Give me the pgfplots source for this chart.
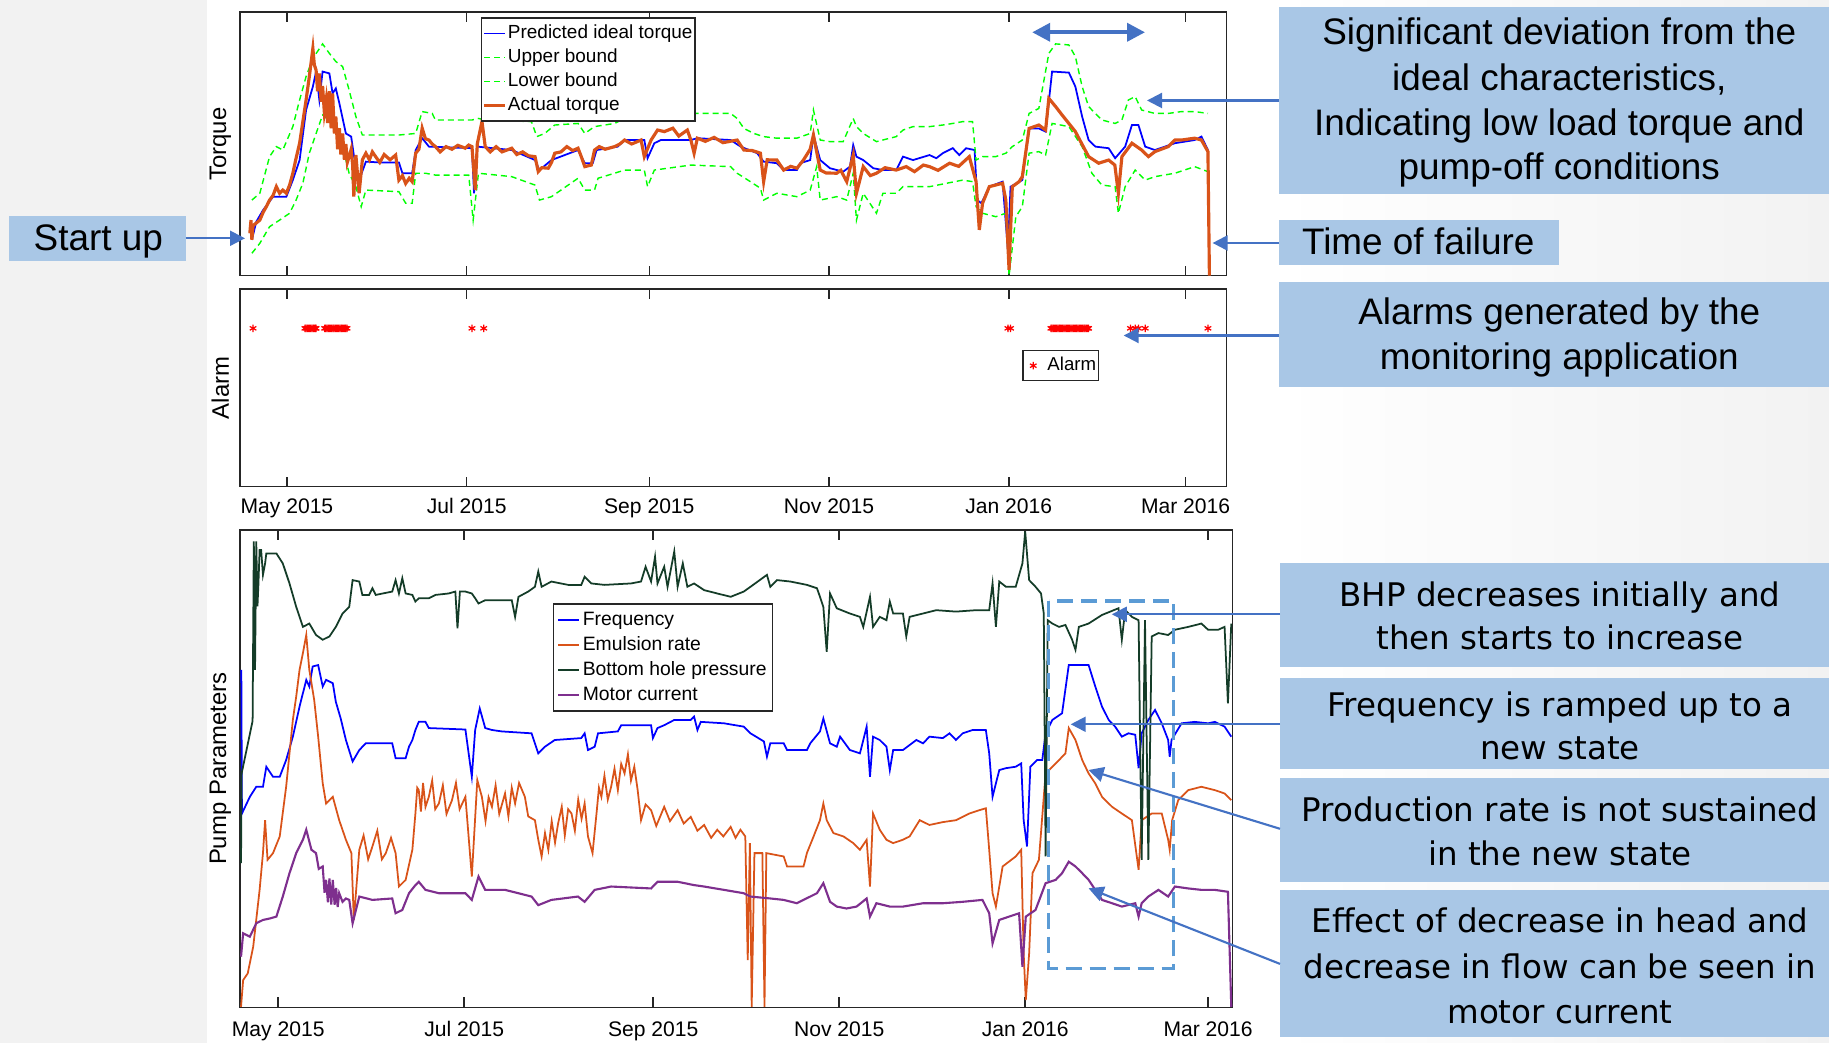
\documentclass[border=0pt]{standalone}
\usepackage{pgfplots}
\pgfplotsset{compat=1.18}
\usepackage{fontspec}
\setmainfont{Liberation Sans}
\newfontfamily\tahoma{DejaVu Sans}
\usetikzlibrary{arrows.meta}
\definecolor{boxblue}{RGB}{169,199,230}
\definecolor{arrblue}{RGB}{68,114,196}
\definecolor{dashblue}{RGB}{91,155,213}
\definecolor{mlorange}{RGB}{217,83,25}
\definecolor{mlpurple}{RGB}{126,47,142}
\definecolor{bhpgreen}{RGB}{20,60,40}
\definecolor{framegray}{RGB}{38,38,38}
\definecolor{bggray}{RGB}{242,242,242}
\pgfplotsset{
 mlaxis/.style={
  scale only axis, anchor=north west,
  axis line style={framegray, line width=0.45pt},
  every tick/.style={framegray, line width=0.45pt},
  major tick length=1mm, tick align=inside,
  xtick={0,61,123,184,245,305},
  xticklabels={May 2015,Jul 2015,Sep 2015,Nov 2015,Jan 2016,Mar 2016},
  xticklabel style={font=\fontsize{6}{7}\selectfont, anchor=base, yshift=-2.7mm, text=black},
  ytick=\empty,
  ylabel style={font=\fontsize{6.8}{8}\selectfont, anchor=center},
  legend cell align=left,
  legend image code/.code={\draw[##1] (0mm,0mm) -- (2.1mm,0mm);},
 },
 alarmlegend/.style={legend image code/.code={\path[draw=none] (0mm,0mm) -- (2.2mm,0mm); \draw[##1,only marks] plot coordinates {(0.88mm,0mm)};}},
 bound/.style={green, line width=0.4pt, dash pattern=on 0.6mm off 0.4mm},
}
\begin{document}
\begin{tikzpicture}
\fill[bggray] (0,0) rectangle (182.9mm,-104.3mm);
\fill[white] (20.7mm,0) rectangle (127.9mm,-104.3mm);
\shade[left color=white, right color=bggray] (127.9mm,0) rectangle (182.9mm,-104.3mm);

% ---------------- Torque ----------------
\begin{axis}[mlaxis, at={(23.98mm,-1.23mm)}, width=98.67mm, height=26.34mm,
  xmin=-16, xmax=318.9, ymin=0, ymax=100, xticklabels={},
  ylabel={Torque}, ylabel style={at={(rel axis cs:-0.0196,0.5)}},
  legend style={at={(rel axis cs:0.244,0.981)}, anchor=north west, draw=framegray,
    font=\fontsize{5.4}{6}\selectfont, inner xsep=0.15mm, inner ysep=0.35mm, row sep=0pt,
    nodes={inner xsep=0.1mm, inner ysep=0.25mm, text height=1.45mm, text depth=0.45mm}}]
\addplot[blue, line width=0.5pt] coordinates {
(-11.9,13.6) (-10.4,20.5) (-8.1,24.9) (-4.7,30.0) (-0.2,30.0) (2.0,36.3) (4.3,43.9) (6.5,62.9) (8.8,71.8) (9.9,77.5)
(11.0,66.7) (12.1,77.5) (14.4,76.8) (15.5,69.2) (16.6,71.1) (17.8,65.4) (20.0,54.0) (21.8,52.8) (22.7,45.8) (24.5,36.3)
(26.8,43.3) (31.3,43.0) (38.0,43.0) (39.2,38.9) (42.5,38.9) (43.7,47.7) (45.9,52.2) (48.2,49.0) (62.8,48.4) (63.5,31.3)
(64.6,49.0) (76.3,47.7) (84.2,43.9) (85.7,40.1) (89.8,43.9) (98.8,47.7) (101.1,42.7) (103.8,42.7) (105.1,47.7) (112.3,49.0)
(114.6,51.5) (121.3,51.5) (122.4,44.6) (124.7,50.3) (126.9,51.5) (137.1,51.5) (139.3,52.2) (150.6,51.5) (154.0,49.0) (159.6,46.5)
(161.8,43.3) (166.3,42.7) (168.6,40.1) (173.1,40.1) (174.2,42.7) (177.6,43.9) (178.7,53.4) (181.0,43.9) (184.3,40.8) (188.8,39.5)
(191.1,41.4) (192.2,49.6) (193.3,45.2) (195.6,43.9) (199.0,40.8) (202.3,40.1) (206.8,40.1) (209.1,45.2) (212.5,43.9) (218.1,45.8)
(220.4,44.6) (222.6,46.5) (226.0,48.4) (228.2,45.8) (230.5,48.4) (233.4,47.7) (234.3,28.7) (235.7,27.5) (238.4,33.8) (242.9,35.7)
(244.7,9.8) (245.6,33.8) (249.6,36.3) (251.9,55.9) (255.2,55.9) (257.5,54.7) (259.7,77.5) (265.4,77.1) (267.6,71.8) (269.9,60.4)
(272.1,51.5) (274.4,49.0) (278.9,48.4) (281.1,44.6) (284.5,49.0) (286.8,57.2) (289.0,57.2) (291.3,49.0) (294.6,47.7) (301.4,50.3)
(308.1,51.5) (310.4,52.8) (312.6,47.7)};
\addlegendentry{Predicted ideal torque}
\addplot[bound] coordinates {
(-11.9,28.7) (-9.2,31.3) (-5.9,45.2) (-3.6,49.0) (-1.4,47.7) (2.0,56.6) (4.3,66.7) (6.5,75.6) (8.8,82.5) (12.1,88.0)
(14.4,84.4) (16.6,81.3) (18.9,79.4) (21.1,70.5) (23.4,60.4) (25.6,53.4) (38.0,53.4) (43.7,54.0) (45.9,62.3) (49.3,61.6)
(50.4,59.1) (62.8,59.1) (65.0,59.7) (67.3,59.1) (83.0,58.5) (84.8,52.8) (87.5,54.0) (90.9,57.2) (98.8,57.8) (101.1,54.0)
(104.4,56.6) (111.2,57.8) (114.6,59.7) (122.4,59.7) (124.7,61.6) (150.6,61.6) (152.8,59.7) (155.1,55.9) (158.5,54.0) (161.8,52.8)
(166.3,52.2) (173.1,52.2) (177.6,54.0) (178.7,62.9) (181.0,51.5) (184.3,50.9) (188.8,50.9) (192.2,59.7) (193.3,56.6) (195.6,54.0)
(200.1,50.9) (206.8,52.8) (209.1,55.3) (212.5,56.6) (218.1,56.6) (222.6,57.2) (226.0,57.8) (229.4,58.5) (232.7,58.5) (233.9,43.9)
(236.1,45.2) (240.6,45.2) (244.0,46.5) (246.2,49.0) (249.6,51.5) (251.9,61.6) (255.2,63.5) (258.6,84.4) (260.9,88.0) (265.4,87.6)
(267.6,83.2) (269.9,71.8) (272.1,64.2) (276.6,59.1) (281.1,57.8) (283.4,59.1) (285.6,66.7) (287.9,68.0) (290.1,62.9) (294.6,61.6)
(299.1,61.6) (303.6,62.3) (308.1,62.3) (312.6,61.6)};
\addlegendentry{Upper bound}
\addplot[bound] coordinates {
(-11.9,8.5) (-9.2,12.3) (-5.9,18.6) (-2.5,21.1) (0.9,23.7) (3.1,28.7) (5.4,35.1) (7.6,46.5) (9.9,54.0) (12.1,61.0)
(14.4,59.1) (16.6,54.0) (18.9,49.0) (21.1,38.9) (23.4,33.8) (25.2,26.2) (26.8,32.5) (38.0,31.9) (40.3,27.5) (42.5,27.5)
(43.7,38.9) (47.0,38.9) (50.4,38.2) (61.7,38.2) (63.2,21.1) (65.0,38.9) (76.3,37.6) (84.2,34.4) (85.7,28.7) (89.8,30.0)
(98.8,37.0) (101.1,32.5) (104.4,32.5) (105.6,37.0) (111.2,38.9) (114.6,40.1) (121.3,40.1) (122.4,33.8) (124.7,40.1) (137.1,42.0)
(150.6,41.4) (152.8,38.9) (157.3,35.7) (160.7,33.2) (161.8,28.7) (166.3,31.3) (173.1,30.0) (177.6,32.5) (179.8,41.4) (181.0,28.7)
(186.6,30.0) (190.0,28.7) (192.2,38.9) (193.3,21.1) (195.6,31.3) (200.1,23.7) (202.3,31.3) (206.8,31.3) (209.1,33.8) (218.1,33.8)
(229.4,36.3) (232.7,35.7) (233.9,26.2) (236.1,23.7) (240.6,22.4) (244.0,23.7) (245.1,0.0) (247.4,22.4) (249.6,26.2) (251.9,46.5)
(255.2,47.1) (257.5,45.8) (259.7,57.8) (265.4,56.6) (269.9,49.0) (273.2,38.9) (276.6,34.4) (281.1,33.8) (282.2,23.7) (284.5,33.8)
(287.9,40.1) (291.3,36.3) (294.6,37.6) (301.4,38.9) (308.1,41.4) (312.6,39.5)};
\addlegendentry{Lower bound}
\addplot[mlorange, line width=0.9pt] coordinates {
(-12.6,16.1) (-12.2,21.1) (-11.9,13.6) (-11.5,19.0) (-9.2,21.1) (-8.1,24.0) (-7.0,26.2) (-5.9,28.7) (-4.7,30.5) (-3.6,33.8)
(-2.5,31.3) (-1.4,32.5) (-0.2,31.3) (0.9,34.4) (2.0,38.9) (3.1,44.6) (4.3,50.3) (5.4,58.5) (6.5,66.7) (7.6,75.6)
(8.8,86.3) (9.3,80) (9.9,78) (10.4,70) (11.0,76.8) (11.6,66) (12.1,72) (12.7,62) (13.3,66.7) (13.8,58)
(14.4,70) (15.0,56) (15.5,69.2) (16.1,54) (16.6,60.4) (17.2,48) (17.8,56) (18.3,46) (18.9,54.0) (19.5,44)
(20.0,50) (20.5,43) (21.1,45.2) (21.8,48) (22.3,42) (22.7,30) (23.4,45.8) (24.5,31.3) (25.6,44) (26.8,46.5)
(28,44) (29,47) (30.1,45.2) (31.5,43) (33,46) (35,44) (36.9,45.8) (38.0,36.3) (39.2,38) (40.3,35)
(41.5,37) (42.5,35.7) (43.7,46.5) (44.8,48) (45.9,56.0) (47.0,52) (48.2,51.5) (49.3,50) (50.4,49.0) (52,47)
(54,49) (56,48) (58,49.5) (60.5,48.4) (61.7,49.6) (62.8,49.0) (63.9,32.5) (64.6,50) (66.2,58.5) (67.3,49.0)
(69,47) (71,49) (73,47) (76.3,48.4) (78,46) (80,47) (82,45.5) (84.2,45.2) (85.3,39.5) (86.5,41)
(88.7,40.8) (89.8,43) (90.9,46.5) (93,47) (95,49) (97,47.5) (98.8,48.4) (99.9,45.2) (101.1,41.4) (103.3,42.0)
(104.4,47.7) (106,49) (108,48) (111.2,49.0) (113,50) (114.6,51.5) (117,50) (120.2,51.5) (121.3,45.2) (123.6,51.5)
(125.8,55.3) (128.1,54.7) (131,56) (133,53) (135.9,55.3) (137.1,51.5) (138.2,46.5) (139.3,52.2) (142,51) (145,52.5)
(148,50.5) (152.8,51.5) (155.1,47.7) (158,47.5) (160.7,46.5) (161.8,35.7) (163,44) (166.3,43.9) (168.6,40.1) (171,41.5)
(173.1,40.8) (175.3,43.9) (177.6,48) (178.7,53.4) (181.0,40.1) (183,39) (186.6,38.9) (188,40) (190.0,35.7) (192.2,45.8)
(193.3,31.3) (195.6,41.4) (198,38) (200.1,38.9) (203,41) (206.8,40.1) (210.2,41.4) (213,39.5) (216,42) (218.1,41.4)
(221,40) (224.9,42.7) (228,41.5) (231.6,45.2) (233.9,35.7) (235.0,17.4) (236.1,27.5) (238.4,33.8) (242.9,35.1) (244.0,28.7)
(245.1,2.2) (246.2,33.8) (248.5,35.7) (249.6,37.6) (251.9,55.9) (255.2,57.2) (257.5,55.3) (258.6,67.3) (260.9,64.2) (263.1,61.0)
(267.6,54.7) (272.1,45.2) (275.5,42.7) (278.9,43.9) (281,42) (282.2,31.3) (283.4,45.2) (286.8,50.3) (290.1,47.7) (292.4,45.2)
(294.6,47.1) (299.1,49.0) (301.4,51.5) (303.6,51.5) (308.1,52.2) (310.4,51.5) (312.6,47.1) (313.1,0)};
\addlegendentry{Actual torque}
\end{axis}

% ---------------- Alarm ----------------
\begin{axis}[mlaxis, at={(23.98mm,-28.9mm)}, width=98.67mm, height=19.77mm,
  xmin=-16, xmax=318.9, ymin=0, ymax=1,
  ylabel={Alarm}, ylabel style={at={(rel axis cs:-0.0196,0.5)}},
  legend style={at={(rel axis cs:0.793,0.6915)}, anchor=north west, draw=framegray,
    font=\fontsize{5.3}{6}\selectfont, inner xsep=0.15mm, inner ysep=0.3mm,
    nodes={inner xsep=0.1mm, inner ysep=0.25mm, text height=1.45mm, text depth=0.45mm}}]
\addplot[only marks, red, mark=asterisk, mark size=0.38mm, mark options={line width=0.35pt}, alarmlegend] coordinates {
(-11.5,0.801)
(6.1,0.801) (6.5,0.801) (6.9,0.801) (7.3,0.801) (7.7,0.801) (8.1,0.801) (8.5,0.801) (8.9,0.801) (9.3,0.801) (9.7,0.801) (9.9,0.801)
(12.8,0.801) (13.2,0.801) (13.6,0.801) (14.0,0.801) (14.4,0.801) (14.8,0.801) (15.2,0.801) (15.6,0.801) (16.0,0.801) (16.4,0.801)
(16.8,0.801) (17.2,0.801) (17.6,0.801) (18.0,0.801) (18.4,0.801) (18.8,0.801) (19.2,0.801) (19.6,0.801) (20.0,0.801) (20.4,0.801)
(62.8,0.801) (66.8,0.801) (244.7,0.801) (245.6,0.801)
(259.3,0.801) (259.7,0.801) (260.1,0.801) (260.5,0.801) (260.9,0.801) (261.3,0.801) (261.7,0.801) (262.1,0.801) (262.5,0.801) (262.9,0.801)
(263.3,0.801) (263.7,0.801) (264.1,0.801) (264.5,0.801) (264.9,0.801) (265.3,0.801) (265.7,0.801) (266.1,0.801) (266.5,0.801) (266.9,0.801)
(267.3,0.801) (267.7,0.801) (268.1,0.801) (268.5,0.801) (268.9,0.801) (269.3,0.801) (269.7,0.801) (270.1,0.801) (270.5,0.801) (270.9,0.801)
(271.3,0.801) (271.7,0.801) (272.1,0.801)
(286.3,0.801) (287.9,0.801) (289.0,0.801) (291.3,0.801) (312.6,0.801)};
\addlegendentry{Alarm}
\end{axis}

% ---------------- Pump parameters ----------------
\begin{axis}[mlaxis, at={(23.98mm,-53.0mm)}, width=99.27mm, height=47.73mm,
  xmin=-12.6, xmax=313.0, ymin=0, ymax=100,
  xticklabel style={yshift=-0.2mm},
  ylabel={Pump Parameters}, ylabel style={at={(rel axis cs:-0.0195,0.5)}},
  legend style={at={(rel axis cs:0.3155,0.8464)}, anchor=north west, draw=framegray,
    font=\fontsize{5.5}{6}\selectfont, inner sep=0.35mm, row sep=0pt,
    nodes={inner sep=0.25mm, text height=1.5mm, text depth=0.5mm}}]
\addplot[blue, line width=0.5pt] coordinates {
(-12.1,70.7) (-11.9,40.6) (-9.3,44.1) (-7.2,46.2) (-5.0,46.2) (-3.9,50.4) (-1.7,48.3) (0.5,48.3) (2.6,51.8) (4.8,56.7)
(7.0,63.0) (9.2,68.6) (10.2,67.2) (11.3,71.4) (13.1,71.7) (14.6,67.2) (15.7,68.6) (17.9,67.9) (18.9,64.0) (20.5,60.5)
(22.2,56.0) (24.4,51.5) (26.6,53.9) (28.7,55.3) (37.4,55.3) (38.5,52.2) (41.8,52.2) (42.9,54.6) (44.0,56.0) (45.0,58.1)
(46.1,59.8) (48.3,59.8) (49.4,58.5) (61.4,58.2) (63.5,48.3) (64.6,58.1) (66.1,62.6) (67.9,58.5) (70.1,58.1) (73.3,57.8)
(83.1,57.4) (85.3,53.2) (87.5,54.6) (90.7,56.0) (99.4,56.4) (100.5,57.4) (101.6,53.9) (103.8,54.6) (104.9,57.4) (111.4,57.8)
(112.5,59.1) (122.3,59.1) (122.9,56.4) (124.4,58.5) (126.6,59.1) (129.9,60.2) (135.3,60.2) (136.4,60.9) (137.5,58.1) (138.6,59.8)
(146.2,59.5) (152.7,58.8) (154.9,57.4) (159.3,55.7) (160.3,52.5) (161.4,55.3) (165.8,55.3) (166.9,53.9) (173.4,53.9) (174.5,55.3)
(177.7,57.8) (178.8,60.5) (181.0,55.3) (183.2,54.6) (184.3,56.7) (187.5,53.9) (190.8,53.2) (193.0,58.8) (194.1,48.3) (195.1,56.7)
(197.3,56.0) (199.5,54.6) (200.6,49.7) (201.7,53.9) (204.9,53.9) (209.3,56.0) (211.5,55.3) (213.6,56.7) (218.0,56.4) (220.2,57.4)
(222.3,56.0) (224.5,57.4) (227.8,58.1) (232.1,58.1) (233.2,53.2) (234.3,44.1) (235.4,46.9) (236.5,49.7) (238.7,50.1) (241.9,50.4)
(243.7,51.1) (244.5,39.2) (245.6,33.7) (246.7,50.4) (248.9,51.8) (250.6,51.8) (251.7,57.4) (253.9,60.2) (257.1,61.6) (259.3,71.7)
(265.8,71.7) (268.0,67.2) (270.2,63.0) (272.4,60.2) (274.5,58.8) (276.7,56.7) (278.9,57.4) (281.1,57.1) (282.2,50.1) (283.2,57.4)
(285.4,60.2) (287.6,62.3) (289.8,59.5) (291.9,56.0) (292.4,52.5) (293.0,56.0) (296.3,59.5) (300.6,59.8) (305.0,59.5) (307.2,59.8)
(310.4,58.8) (312.6,56.7)};
\addlegendentry{Frequency}
\addplot[mlorange, line width=0.5pt] coordinates {
(-12.2,0.1) (-11.5,5.7) (-10.0,7.1) (-8.2,12.7) (-6.1,24.6) (-5.0,32.3) (-4.3,39.2) (-3.5,30.9) (-1.7,32.3) (0.5,35.8)
(2.6,46.2) (4.8,60.2) (5.9,65.1) (7.0,70.7) (8.1,74.2) (9.2,78.0) (10.2,70.7) (11.8,64.4) (13.1,56.7) (14.6,46.9)
(15.7,42.7) (17.9,44.1) (20.0,39.2) (22.2,35.1) (24.0,32.3) (24.8,18.3) (26.6,33.0) (28,36) (29.5,31) (30.9,33.7) (32.5,37)
(34,31) (35.3,32.3) (37,35.5) (38.5,32.3) (39.6,25.3) (41.8,26.7) (44.0,33.0) (45.0,40.6) (45.6,46) (46.1,45.5)
(46.8,41) (47.5,47) (48.3,42) (49.4,44.1) (50.5,47.5) (51.5,41.5) (52.7,42.7) (54,46.5) (55.2,40.5) (57.0,43.4)
(58.3,47) (59.5,41.5) (61.4,44.1) (63.5,27.4) (65.3,47.6) (66.8,44.1) (68,39) (69,44) (70.1,42.0) (71.3,46.5)
(72.5,40.5) (74.4,44.8) (75.5,40) (76.6,46) (77.7,42.7) (79,47) (80.9,44.1) (82,40) (84.2,39.2) (85.3,35.1)
(86.4,31.6) (87.5,36.5) (88.6,33) (89.7,39) (90.8,34.5) (91.8,38.5) (93,42) (94,36) (95.1,41.5) (96.2,40.6)
(97.3,37) (98.4,43.5) (99.5,39.5) (100.5,42.7) (101.6,35.8) (103.1,32.3) (104.4,40.6) (105.2,46) (106.0,44.1) (107,48.5)
(108.1,43.5) (109.2,46.2) (110.3,50) (111.4,45.5) (112.5,51) (113.6,49.0) (114.7,53) (115.7,47.5) (116.8,50.4) (117.9,45.5)
(119.0,39.2) (120.5,42.5) (122.3,41.3) (124,38) (126.6,42.0) (128.5,39) (131.0,41.3) (133,38.5) (135.3,39.9) (137.5,37)
(139.7,38.2) (142,35.5) (144.0,37.2) (146,35.8) (148.4,37.8) (150,35.5) (151.6,37.2) (153.2,35.8) (154.0,9.9) (154.7,34.4)
(155.3,0.1) (156.2,32.3) (158.8,32.3) (159.5,0.1) (160.1,32.3) (165.8,31.6) (166.9,29.5) (172.3,29.5) (173.4,32.3) (175.6,35.8)
(177.7,39.2) (178.8,42.7) (179.9,39.2) (182.1,36.5) (185.4,35.8) (188.6,34.4) (190.8,33.0) (193.0,35.1) (194.1,25.3) (195.1,40.6)
(197.3,37.2) (199.5,35.1) (201.7,34.4) (204.9,35.1) (207.1,35.8) (210.4,39.2) (213.6,38.2) (218.0,38.8) (222.3,39.2) (226.7,40.6)
(230.0,41.3) (232.1,41.7) (233.2,33.0) (234.3,23.9) (235.4,21.1) (237.6,29.5) (241.9,31.6) (243.7,33.0) (244.5,11.3) (245.2,1.5)
(246.3,11.3) (247.4,28.1) (249.5,30.9) (251.7,49.0) (253.9,50.4) (256.1,51.8) (258.2,53.2) (259.3,58.5) (261.5,56.0) (263.7,51.8)
(265.8,49.0) (268.0,46.9) (270.2,44.1) (273.5,42.0) (276.7,40.6) (280.0,39.2) (282.2,28.8) (283.2,39.2) (286.5,40.6) (289.8,40.6)
(291.9,35.1) (292.4,33.0) (293.2,39.2) (295.2,43.4) (298.5,45.5) (302.8,46.2) (307.2,45.5) (310.4,44.8) (312.6,43.4)};
\addlegendentry{Emulsion rate}
\addplot[bhpgreen, line width=0.5pt] coordinates {
(-12.2,30.2) (-12.0,49.0) (-8.4,60) (-8.0,97.6) (-7.6,70.7) (-7.2,97.6) (-6.8,84) (-6.5,88.5) (-6.1,95.8) (-5.6,95.8)
(-5.0,90.6) (-4.3,93.0) (-3.9,95.1) (-0.6,95.1) (1.5,93.0) (3.7,88.8) (5.9,83.9) (8.1,79.7) (10.2,80.4) (12.4,78.0)
(14.6,77.0) (16.8,77.7) (18.9,79.7) (21.1,82.5) (23.3,83.9) (24.4,89.5) (26.6,89.2) (27.6,86.4) (29.8,86.4) (30.9,87.8)
(32.0,86.4) (37.4,87.1) (38.5,89.5) (39.6,86.7) (40.7,89.9) (41.8,86.7) (44.0,86.4) (45.0,85.0) (46.1,85.7) (49.4,85.7)
(51.6,86.4) (55.9,86.7) (58.1,87.1) (58.8,79.4) (59.6,87.1) (61.4,87.1) (63.5,86.7) (64.6,85.7) (65.7,84.6) (67.9,85.3)
(76.6,85.3) (77.7,81.8) (78.8,86.0) (82.0,87.1) (84.2,88.1) (85.3,91.3) (86.4,88.1) (89.6,89.2) (95.1,88.5) (99.4,88.5)
(100.5,90.2) (102.7,88.8) (107.0,88.5) (115.7,88.8) (119.0,89.2) (120.5,92.3) (122.3,89.2) (123.6,94.4) (124.4,88.8) (126.6,92.3)
(127.7,88.1) (129.9,95.5) (131.0,88.1) (132.7,93.0) (134.2,88.1) (136.4,88.8) (139.7,87.4) (144.0,86.7) (148.4,86.0) (152.7,87.1)
(154.9,88.1) (160.3,90.6) (161.4,88.1) (163.6,89.5) (168.0,89.2) (173.4,88.5) (176.7,87.8) (177.7,86.0) (178.8,83.9) (179.9,74.5)
(181.0,86.7) (183.2,83.6) (187.5,82.5) (190.8,81.8) (191.9,79.7) (194.1,86.0) (195.1,79.7) (197.3,81.8) (199.5,81.1) (200.6,85.0)
(201.7,82.5) (204.9,82.5) (206.0,77.7) (207.1,81.8) (211.5,82.5) (215.8,83.2) (222.3,82.9) (228.9,83.2) (233.2,83.2) (234.3,88.8)
(235.4,79.7) (236.5,89.2) (238.7,88.1) (241.9,88.1) (244.1,93.0) (245.0,99.7) (246.3,89.5) (248.4,88.1) (250.2,86.7) (251.1,82.5)
(251.7,31.6) (252.4,81.1) (253.9,80.4) (256.1,79.7) (258.2,80.1) (260.4,77.0) (261.5,74.9) (262.6,79.7) (265.8,80.4) (270.2,82.2)
(275.6,83.6) (276.7,77.0) (277.8,83.2) (280.0,81.8) (282.2,81.1) (283.2,30.9) (284.3,81.1) (285.4,30.9) (286.5,77.7) (288.7,78.4)
(291.9,78.0) (294.1,79.1) (298.5,79.7) (302.8,80.4) (305.0,79.1) (308.3,79.1) (310.4,79.7) (311.5,63.7) (312.6,80.4)};
\addlegendentry{Bottom hole pressure}
\addplot[mlpurple, line width=0.6pt] coordinates {
(-12.2,10.6) (-11.5,15.5) (-9.3,14.8) (-7.2,17.6) (-5.0,18.3) (-2.8,18.6) (-0.6,19.0) (1.5,23.2) (3.7,28.1) (5.9,32.3)
(8.1,35.1) (9.2,37.2) (10.9,33.0) (12.4,32.3) (13.3,29) (14.6,29.5) (15.2,24) (15.7,26.7) (16.3,22) (16.8,27)
(17.4,21.5) (17.9,26.7) (18.5,21.5) (19.0,25) (19.5,21.0) (20.0,23.9) (21.1,22.1) (22.2,22.8) (23.3,22.5) (24.4,17.6)
(26.6,23.2) (30.9,22.5) (37.4,22.8) (38.5,19.7) (40.7,20.4) (42.9,23.9) (45.0,25.6) (46.1,26.3) (48.3,24.6) (52.7,23.9)
(61.4,23.9) (63.5,22.5) (65.7,27.4) (67.9,24.6) (74.4,24.6) (83.1,23.2) (85.3,21.4) (89.6,22.5) (98.3,23.2) (100.5,22.1)
(103.8,24.6) (109.2,25.3) (122.3,24.9) (124.4,26.3) (131.0,26.3) (136.4,25.6) (139.7,25.3) (146.2,24.6) (152.7,23.9) (154.9,23.2)
(161.4,22.8) (165.8,22.5) (170.1,21.8) (176.7,23.9) (178.8,26.0) (181.0,22.1) (183.2,21.1) (186.4,20.7) (189.7,21.1) (193.0,22.8)
(194.1,19.0) (196.2,21.8) (200.6,21.1) (204.9,21.1) (211.5,21.8) (218.0,21.8) (224.5,22.1) (231.0,22.5) (233.2,19.7) (234.3,13.4)
(236.5,18.3) (239.7,19.0) (243.0,19.7) (244.1,8.5) (245.2,19.0) (248.4,20.4) (251.7,26.0) (255.0,26.7) (257.1,28.1) (259.3,30.5)
(261.5,29.5) (263.7,28.1) (265.8,26.7) (268.0,24.6) (270.2,22.5) (273.5,21.8) (276.7,21.1) (281.1,21.8) (282.2,19.0) (283.2,21.8)
(285.4,23.2) (288.7,24.6) (291.9,23.2) (294.1,25.3) (298.5,24.9) (302.8,24.6) (307.2,24.6) (311.5,24.2) (312.6,0.1)};
\addlegendentry{Motor current}
\end{axis}

% ---------------- annotations ----------------
\draw[dashblue, line width=0.9pt, dash pattern=on 1.6mm off 0.8mm] (104.88mm,-60.1mm) rectangle (117.35mm,-96.83mm);

\fill[boxblue] (0.9mm,-21.57mm) rectangle (18.57mm,-26.1mm);
\node[anchor=base west, inner sep=0, font=\fontsize{10.5}{12}\selectfont] at (3.3mm,-25.1mm) {Start up};

\fill[boxblue] (127.9mm,-0.73mm) rectangle (182.9mm,-19.43mm);
\fill[boxblue] (127.9mm,-21.97mm) rectangle (155.88mm,-26.5mm);
\fill[boxblue] (127.9mm,-28.23mm) rectangle (182.9mm,-38.67mm);
\fill[boxblue] (128.0mm,-56.33mm) rectangle (182.9mm,-66.67mm);
\fill[boxblue] (128.0mm,-67.83mm) rectangle (182.9mm,-76.93mm);
\fill[boxblue] (128.0mm,-77.83mm) rectangle (182.9mm,-88.17mm);
\fill[boxblue] (128.0mm,-89.0mm) rectangle (182.9mm,-103.67mm);

\begin{scope}[every node/.style={anchor=base, inner sep=0, font=\fontsize{10.5}{12}\selectfont}]
\node at (155.93mm,-4.5mm) {Significant deviation from the};
\node at (155.93mm,-9.07mm) {ideal characteristics,};
\node at (155.93mm,-13.6mm) {Indicating low load torque and};
\node at (155.93mm,-18.0mm) {pump-off conditions};
\node[anchor=base west] at (130.14mm,-25.5mm) {Time of failure};
\node at (155.93mm,-32.5mm) {Alarms generated by the};
\node at (155.93mm,-37.0mm) {monitoring application};
\end{scope}
\begin{scope}[every node/.style={anchor=base, inner sep=0, font=\tahoma\fontsize{9.25}{11}\selectfont}]
\node at (156.0mm,-60.67mm) {BHP decreases initially and};
\node at (156.0mm,-65.0mm) {then starts to increase};
\node at (156.0mm,-71.67mm) {Frequency is ramped up to a};
\node at (156.0mm,-76.0mm) {new state};
\node at (156.0mm,-82.17mm) {Production rate is not sustained};
\node at (156.0mm,-86.6mm) {in the new state};
\node at (156.0mm,-93.27mm) {Effect of decrease in head and};
\node at (156.0mm,-97.83mm) {decrease in flow can be seen in};
\node at (156.0mm,-102.33mm) {motor current};
\end{scope}

\begin{scope}[arrblue, line width=0.6pt, -{Triangle[length=1.5mm,width=1.5mm]}]
\draw (18.57mm,-23.83mm) -- (24.5mm,-23.83mm);
\draw (127.9mm,-10.05mm) -- (114.7mm,-10.05mm);
\draw (127.9mm,-24.3mm) -- (121.26mm,-24.3mm);
\draw (127.9mm,-33.55mm) -- (112.37mm,-33.55mm);
\draw (128.0mm,-61.43mm) -- (111.18mm,-61.43mm);
\draw (128.0mm,-72.43mm) -- (107.07mm,-72.43mm);
\draw (128.0mm,-82.88mm) -- (108.86mm,-77.0mm);
\draw (128.0mm,-96.39mm) -- (108.86mm,-88.83mm);
\end{scope}
\draw[arrblue, line width=1.1pt, {Triangle[length=1.8mm,width=1.8mm]}-{Triangle[length=1.8mm,width=1.8mm]}] (103.22mm,-3.23mm) -- (114.5mm,-3.23mm);
\pgfresetboundingbox
\path[use as bounding box] (0,0) rectangle (182.9mm,-104.3mm);
\end{tikzpicture}
\end{document}
